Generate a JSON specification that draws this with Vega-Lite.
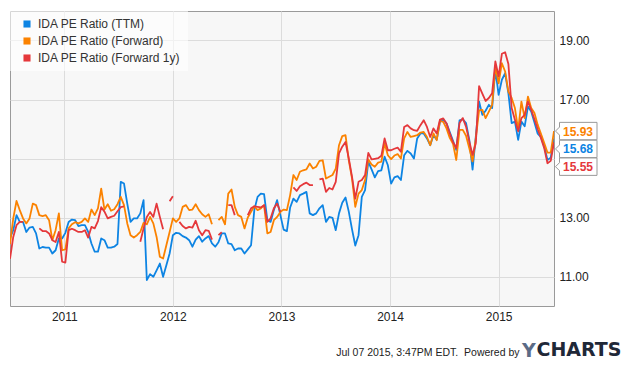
{
  "$schema": "https://vega.github.io/schema/vega-lite/v6.json",
  "width": 544,
  "height": 295,
  "autosize": {"type": "none"},
  "padding": {"left": 10, "top": 11, "right": 81, "bottom": 60},
  "background": "white",
  "title": {"text": "Y", "anchor": "start", "orient": "top", "frame": "group", "offset": 0, "baseline": "alphabetic", "dx": 512, "dy": 365.3, "font": "DejaVu Sans", "fontSize": 19, "fontWeight": "bold", "color": "#5b6b86"},
  "data": {"values": [
    {"yr":2010.50,"t":12.30,"f":12.10,"r":11.60},
    {"yr":2010.53,"t":12.57,"f":12.97,"r":12.34},
    {"yr":2010.56,"t":13.08,"f":13.56,"r":12.74},
    {"yr":2010.59,"t":12.85,"f":13.25,"r":12.85},
    {"yr":2010.62,"t":12.85,"f":12.97,"r":12.85},
    {"yr":2010.65,"t":12.51,"f":12.80,"r":null},
    {"yr":2010.68,"t":12.66,"f":12.97,"r":null},
    {"yr":2010.71,"t":12.68,"f":13.47,"r":null},
    {"yr":2010.74,"t":12.46,"f":13.42,"r":null},
    {"yr":2010.77,"t":11.95,"f":13.08,"r":12.63},
    {"yr":2010.80,"t":12.00,"f":13.05,"r":12.54},
    {"yr":2010.83,"t":11.98,"f":13.08,"r":12.54},
    {"yr":2010.86,"t":11.98,"f":12.91,"r":12.46},
    {"yr":2010.89,"t":11.78,"f":12.23,"r":12.23},
    {"yr":2010.92,"t":11.89,"f":12.57,"r":12.17},
    {"yr":2010.95,"t":12.29,"f":13.14,"r":12.51},
    {"yr":2010.98,"t":12.29,"f":11.89,"r":11.50},
    {"yr":2011.01,"t":12.48,"f":11.92,"r":11.47},
    {"yr":2011.04,"t":12.85,"f":12.63,"r":12.57},
    {"yr":2011.07,"t":12.93,"f":12.77,"r":12.62},
    {"yr":2011.10,"t":12.91,"f":12.84,"r":12.57},
    {"yr":2011.13,"t":12.71,"f":12.80,"r":12.51},
    {"yr":2011.16,"t":12.74,"f":12.85,"r":12.51},
    {"yr":2011.19,"t":12.74,"f":12.97,"r":12.57},
    {"yr":2011.22,"t":12.51,"f":12.85,"r":12.32},
    {"yr":2011.25,"t":12.12,"f":13.27,"r":12.68},
    {"yr":2011.28,"t":11.84,"f":13.08,"r":12.63},
    {"yr":2011.31,"t":11.84,"f":13.31,"r":12.88},
    {"yr":2011.34,"t":12.29,"f":13.98,"r":13.35},
    {"yr":2011.37,"t":12.23,"f":13.27,"r":13.20},
    {"yr":2011.40,"t":11.98,"f":13.45,"r":12.97},
    {"yr":2011.43,"t":11.98,"f":13.23,"r":13.02},
    {"yr":2011.46,"t":12.01,"f":13.28,"r":13.06},
    {"yr":2011.49,"t":12.10,"f":13.45,"r":13.21},
    {"yr":2011.52,"t":14.21,"f":13.70,"r":13.35},
    {"yr":2011.55,"t":14.15,"f":13.42,"r":13.38},
    {"yr":2011.58,"t":13.47,"f":12.80,"r":null},
    {"yr":2011.61,"t":12.85,"f":12.40,"r":null},
    {"yr":2011.64,"t":12.97,"f":12.32,"r":null},
    {"yr":2011.67,"t":12.97,"f":12.40,"r":null},
    {"yr":2011.70,"t":13.14,"f":12.51,"r":12.18},
    {"yr":2011.73,"t":13.59,"f":12.82,"r":12.63},
    {"yr":2011.76,"t":10.88,"f":12.77,"r":13.02},
    {"yr":2011.79,"t":11.08,"f":13.02,"r":13.19},
    {"yr":2011.82,"t":10.99,"f":12.80,"r":13.02},
    {"yr":2011.85,"t":11.21,"f":12.34,"r":13.47},
    {"yr":2011.88,"t":11.44,"f":11.67,"r":13.02},
    {"yr":2011.91,"t":10.99,"f":11.61,"r":12.60},
    {"yr":2011.94,"t":11.38,"f":12.06,"r":null},
    {"yr":2011.97,"t":11.78,"f":12.51,"r":13.55},
    {"yr":2012.00,"t":12.40,"f":12.97,"r":13.72},
    {"yr":2012.03,"t":12.48,"f":12.85,"r":null},
    {"yr":2012.06,"t":12.46,"f":12.97,"r":12.85},
    {"yr":2012.09,"t":12.37,"f":13.36,"r":12.71},
    {"yr":2012.12,"t":12.32,"f":13.42,"r":12.63},
    {"yr":2012.15,"t":12.23,"f":13.25,"r":12.68},
    {"yr":2012.18,"t":12.01,"f":13.27,"r":12.66},
    {"yr":2012.21,"t":12.25,"f":13.45,"r":12.89},
    {"yr":2012.24,"t":12.37,"f":13.25,"r":12.57},
    {"yr":2012.27,"t":12.18,"f":13.11,"r":12.40},
    {"yr":2012.30,"t":12.29,"f":13.02,"r":12.57},
    {"yr":2012.33,"t":12.37,"f":13.11,"r":12.55},
    {"yr":2012.36,"t":12.12,"f":12.77,"r":12.25},
    {"yr":2012.39,"t":12.01,"f":null,"r":null},
    {"yr":2012.42,"t":12.16,"f":12.91,"r":12.40},
    {"yr":2012.45,"t":12.46,"f":13.02,"r":12.50},
    {"yr":2012.48,"t":12.46,"f":12.77,"r":null},
    {"yr":2012.51,"t":12.12,"f":13.81,"r":13.42},
    {"yr":2012.54,"t":12.10,"f":13.95,"r":13.42},
    {"yr":2012.57,"t":11.89,"f":13.36,"r":13.08},
    {"yr":2012.60,"t":11.95,"f":13.08,"r":null},
    {"yr":2012.63,"t":11.95,"f":13.02,"r":null},
    {"yr":2012.66,"t":11.78,"f":12.63,"r":null},
    {"yr":2012.69,"t":11.92,"f":13.00,"r":13.08},
    {"yr":2012.72,"t":12.06,"f":13.19,"r":13.31},
    {"yr":2012.75,"t":13.25,"f":13.38,"r":13.38},
    {"yr":2012.78,"t":13.70,"f":13.25,"r":13.36},
    {"yr":2012.81,"t":13.81,"f":13.31,"r":13.34},
    {"yr":2012.84,"t":13.79,"f":13.42,"r":13.42},
    {"yr":2012.87,"t":12.91,"f":12.46,"r":12.85},
    {"yr":2012.90,"t":12.85,"f":12.51,"r":12.97},
    {"yr":2012.93,"t":13.25,"f":12.91,"r":13.31},
    {"yr":2012.96,"t":13.59,"f":13.02,"r":13.47},
    {"yr":2012.99,"t":13.08,"f":13.19,"r":13.19},
    {"yr":2013.02,"t":12.59,"f":13.27,"r":null},
    {"yr":2013.05,"t":12.54,"f":13.25,"r":null},
    {"yr":2013.08,"t":13.34,"f":13.76,"r":null},
    {"yr":2013.11,"t":13.64,"f":14.44,"r":14.02},
    {"yr":2013.14,"t":13.53,"f":14.27,"r":13.90},
    {"yr":2013.17,"t":13.76,"f":14.55,"r":14.06},
    {"yr":2013.20,"t":13.81,"f":14.60,"r":14.13},
    {"yr":2013.23,"t":13.87,"f":14.63,"r":14.18},
    {"yr":2013.26,"t":13.14,"f":14.83,"r":14.10},
    {"yr":2013.29,"t":13.08,"f":14.66,"r":14.10},
    {"yr":2013.32,"t":13.14,"f":14.72,"r":null},
    {"yr":2013.35,"t":13.31,"f":14.92,"r":14.29},
    {"yr":2013.38,"t":13.42,"f":14.94,"r":14.32},
    {"yr":2013.41,"t":12.85,"f":14.32,"r":13.87},
    {"yr":2013.44,"t":13.02,"f":14.38,"r":14.00},
    {"yr":2013.47,"t":12.99,"f":14.44,"r":13.95},
    {"yr":2013.50,"t":12.57,"f":14.66,"r":14.21},
    {"yr":2013.53,"t":13.14,"f":15.45,"r":15.17},
    {"yr":2013.56,"t":13.50,"f":15.76,"r":15.40},
    {"yr":2013.59,"t":13.68,"f":15.79,"r":15.56},
    {"yr":2013.62,"t":13.20,"f":14.94,"r":15.00},
    {"yr":2013.65,"t":12.60,"f":14.32,"r":14.38},
    {"yr":2013.68,"t":12.05,"f":13.36,"r":13.64},
    {"yr":2013.71,"t":12.40,"f":13.81,"r":14.21},
    {"yr":2013.74,"t":13.70,"f":13.93,"r":14.27},
    {"yr":2013.77,"t":13.93,"f":14.27,"r":14.44},
    {"yr":2013.80,"t":14.89,"f":14.97,"r":15.19},
    {"yr":2013.83,"t":14.63,"f":14.80,"r":14.97},
    {"yr":2013.86,"t":14.36,"f":14.72,"r":14.99},
    {"yr":2013.89,"t":14.57,"f":14.86,"r":15.01},
    {"yr":2013.92,"t":14.60,"f":14.89,"r":15.09},
    {"yr":2013.95,"t":15.06,"f":15.51,"r":15.68},
    {"yr":2013.98,"t":14.77,"f":15.11,"r":15.28},
    {"yr":2014.01,"t":14.15,"f":14.98,"r":15.28},
    {"yr":2014.04,"t":14.36,"f":15.10,"r":15.33},
    {"yr":2014.07,"t":14.40,"f":15.15,"r":15.37},
    {"yr":2014.10,"t":14.27,"f":15.00,"r":15.23},
    {"yr":2014.13,"t":15.11,"f":15.68,"r":16.07},
    {"yr":2014.16,"t":15.26,"f":15.90,"r":16.13},
    {"yr":2014.19,"t":15.17,"f":15.73,"r":16.02},
    {"yr":2014.22,"t":15.00,"f":15.76,"r":15.96},
    {"yr":2014.25,"t":15.68,"f":15.79,"r":15.94},
    {"yr":2014.28,"t":15.85,"f":15.88,"r":16.13},
    {"yr":2014.31,"t":15.85,"f":15.90,"r":16.30},
    {"yr":2014.34,"t":15.68,"f":15.73,"r":16.07},
    {"yr":2014.37,"t":15.45,"f":15.45,"r":15.73},
    {"yr":2014.40,"t":15.79,"f":15.85,"r":16.02},
    {"yr":2014.43,"t":15.64,"f":15.62,"r":15.85},
    {"yr":2014.46,"t":16.24,"f":16.28,"r":16.32},
    {"yr":2014.49,"t":16.32,"f":16.24,"r":16.36},
    {"yr":2014.52,"t":16.19,"f":16.02,"r":16.19},
    {"yr":2014.55,"t":15.90,"f":15.70,"r":15.85},
    {"yr":2014.58,"t":15.60,"f":15.50,"r":15.55},
    {"yr":2014.61,"t":15.29,"f":14.95,"r":15.35},
    {"yr":2014.64,"t":16.29,"f":15.97,"r":16.20},
    {"yr":2014.67,"t":16.33,"f":15.97,"r":16.37},
    {"yr":2014.70,"t":16.20,"f":15.77,"r":16.08},
    {"yr":2014.73,"t":15.63,"f":15.35,"r":15.58},
    {"yr":2014.76,"t":14.62,"f":14.90,"r":15.12},
    {"yr":2014.79,"t":15.75,"f":15.69,"r":15.52},
    {"yr":2014.82,"t":16.93,"f":16.63,"r":17.45},
    {"yr":2014.85,"t":16.48,"f":16.65,"r":17.20},
    {"yr":2014.88,"t":16.62,"f":16.37,"r":16.95},
    {"yr":2014.91,"t":16.82,"f":16.59,"r":17.05},
    {"yr":2014.94,"t":16.71,"f":16.82,"r":17.21},
    {"yr":2014.97,"t":18.01,"f":18.12,"r":18.29},
    {"yr":2015.00,"t":17.16,"f":17.55,"r":17.78},
    {"yr":2015.03,"t":17.67,"f":18.23,"r":18.55},
    {"yr":2015.06,"t":17.89,"f":17.95,"r":18.60},
    {"yr":2015.09,"t":17.21,"f":17.27,"r":18.20},
    {"yr":2015.12,"t":16.20,"f":17.05,"r":16.71},
    {"yr":2015.15,"t":16.25,"f":16.71,"r":16.31},
    {"yr":2015.18,"t":15.63,"f":15.97,"r":15.92},
    {"yr":2015.21,"t":16.25,"f":16.93,"r":16.37},
    {"yr":2015.24,"t":16.09,"f":16.37,"r":16.48},
    {"yr":2015.27,"t":16.76,"f":17.10,"r":16.93},
    {"yr":2015.30,"t":16.59,"f":16.71,"r":16.65},
    {"yr":2015.33,"t":16.22,"f":16.54,"r":16.33},
    {"yr":2015.36,"t":15.84,"f":16.14,"r":15.99},
    {"yr":2015.39,"t":15.72,"f":15.84,"r":15.69},
    {"yr":2015.42,"t":15.41,"f":15.52,"r":15.35},
    {"yr":2015.45,"t":14.95,"f":15.20,"r":14.84},
    {"yr":2015.48,"t":15.03,"f":15.20,"r":14.92},
    {"yr":2015.51,"t":15.68,"f":15.93,"r":15.55}
  ]},
  "transform": [{"fold": ["t", "f", "r"], "as": ["s", "v"]}],
  "encoding": {
    "x": {
      "field": "yr", "type": "quantitative",
      "scale": {"domain": [2010.5, 2015.51], "nice": false, "zero": false},
      "axis": {
        "values": [2011, 2012, 2013, 2014, 2015], "format": "d",
        "grid": true, "ticks": false, "domain": false,
        "labelPadding": 5, "labelFontSize": 12, "labelColor": "#222222",
        "title": "Jul 07 2015, 3:47PM EDT.\u00a0 Powered by",
        "titleX": 509, "titleY": 49.5, "titleAlign": "right", "titleBaseline": "alphabetic",
        "titleFontSize": 10.5, "titleFontWeight": "normal", "titleColor": "#222222"
      }
    },
    "y": {
      "field": "v", "type": "quantitative",
      "scale": {"domain": [10, 20], "nice": false, "zero": false},
      "axis": {
        "orient": "right", "values": [11, 13, 15, 17, 19],
        "labelExpr": "datum.value == 15 ? '' : format(datum.value, '.2f')",
        "grid": true, "ticks": false, "domain": false,
        "labelPadding": 5, "labelFontSize": 12, "labelColor": "#222222",
        "title": "CHARTS", "titleAngle": 0, "titleX": -18, "titleY": 344.5,
        "titleAlign": "left", "titleBaseline": "alphabetic",
        "titleFont": "DejaVu Sans", "titleFontSize": 19, "titleFontWeight": "bold", "titleColor": "#1f2838"
      }
    }
  },
  "layer": [
    {
      "mark": {"type": "line", "strokeWidth": 1.8, "strokeJoin": "round", "clip": true},
      "encoding": {
        "color": {
          "field": "s", "type": "nominal",
          "scale": {"domain": ["t", "f", "r"], "range": ["#0d84e3", "#fb8200", "#e5383b"]},
          "legend": {
            "title": null, "orient": "top-left", "offset": 0, "padding": 7,
            "fillColor": "rgba(255,255,255,0.6)",
            "symbolType": "square", "symbolSize": 50, "symbolOffset": 4, "symbolOpacity": 1,
            "symbolStrokeWidth": 0,
            "labelOffset": 5, "labelFontSize": 12, "labelColor": "#333333", "rowPadding": 5,
            "labelExpr": "{'t': 'IDA PE Ratio (TTM)', 'f': 'IDA PE Ratio (Forward)', 'r': 'IDA PE Ratio (Forward 1y)'}[datum.label]",
            "encode": {"symbols": {"update": {"fill": {"scale": "color", "field": "value"}, "fillOpacity": {"value": 1}}}}
          }
        }
      }
    },
    {
      "transform": [{"filter": "datum.yr > 2015.5 && datum.s == 'f'"}],
      "mark": {"type": "point", "shape": "M0.15,0L0.55,-0.4L0.55,-0.87L4.3,-0.87L4.3,0.87L0.55,0.87L0.55,0.4Z", "filled": true, "fill": "white", "stroke": "#999999", "strokeWidth": 1, "opacity": 1, "size": 400}
    },
    {
      "transform": [{"filter": "datum.yr > 2015.5 && datum.s == 't'"}],
      "mark": {"type": "point", "shape": "M0.15,1.05L0.55,0.65L0.55,0.18L4.3,0.18L4.3,1.92L0.55,1.92L0.55,1.45Z", "filled": true, "fill": "white", "stroke": "#999999", "strokeWidth": 1, "opacity": 1, "size": 400}
    },
    {
      "transform": [{"filter": "datum.yr > 2015.5 && datum.s == 'r'"}],
      "mark": {"type": "point", "shape": "M0.15,2.44L0.55,2.04L0.55,1.57L4.3,1.57L4.3,3.31L0.55,3.31L0.55,2.84Z", "filled": true, "fill": "white", "stroke": "#999999", "strokeWidth": 1, "opacity": 1, "size": 400}
    },
    {
      "transform": [{"filter": "datum.yr > 2015.5 && datum.s == 'f'"}],
      "mark": {"type": "text", "align": "center", "baseline": "middle", "dx": 24, "dy": 0.5, "fontSize": 12, "fontWeight": "bold", "color": "#fb8200"},
      "encoding": {"text": {"field": "v", "type": "quantitative", "format": ".2f"}}
    },
    {
      "transform": [{"filter": "datum.yr > 2015.5 && datum.s == 't'"}],
      "mark": {"type": "text", "align": "center", "baseline": "middle", "dx": 24, "dy": 10.8, "fontSize": 12, "fontWeight": "bold", "color": "#0d84e3"},
      "encoding": {"text": {"field": "v", "type": "quantitative", "format": ".2f"}}
    },
    {
      "transform": [{"filter": "datum.yr > 2015.5 && datum.s == 'r'"}],
      "mark": {"type": "text", "align": "center", "baseline": "middle", "dx": 24, "dy": 24.7, "fontSize": 12, "fontWeight": "bold", "color": "#e5383b"},
      "encoding": {"text": {"field": "v", "type": "quantitative", "format": ".2f"}}
    }
  ],
  "config": {
    "font": "Liberation Sans",
    "view": {"stroke": "#9a9a9a", "strokeWidth": 1, "fill": "#f7f7f7"},
    "axis": {"gridColor": "#dcdcdc", "gridWidth": 1}
  }
}
